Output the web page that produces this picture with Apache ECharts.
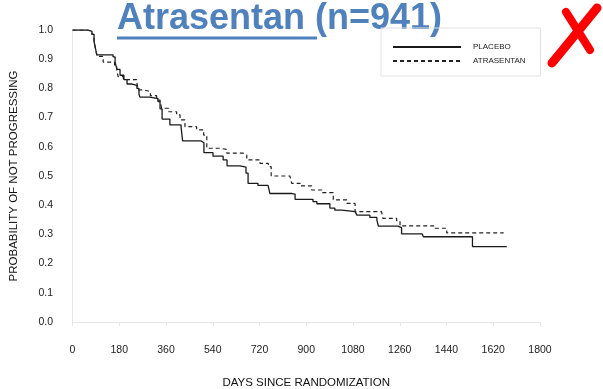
<!DOCTYPE html>
<html>
<head>
<meta charset="utf-8">
<title>Atrasentan (n=941)</title>
<script src="https://cdn.jsdelivr.net/npm/echarts@6/dist/echarts.min.js"></script>
<style>
	html,body{margin:0;padding:0;background:#fff;}
	#chart{width:603px;height:389px;}
</style>
</head>
<body>
<div id="chart"></div>
<script>
	// km curves, [day, probability]
	var placebo = [
		[0,1.0],[60,0.995],[75,0.985],[83,0.96],[90,0.93],[94,0.915],[156,0.908],[164,0.89],
		[171,0.865],[183,0.845],[198,0.83],[210,0.815],[229,0.81],[248,0.80],[256,0.78],[260,0.77],
		[298,0.765],[329,0.755],[337,0.73],[345,0.695],[375,0.675],[418,0.668],[424,0.62],[495,0.614],
		[506,0.58],[541,0.568],[580,0.555],[595,0.535],[645,0.53],[668,0.51],[676,0.475],[714,0.468],
		[753,0.462],[760,0.44],[845,0.438],[857,0.42],[926,0.412],[941,0.405],[991,0.39],[1010,0.383],
		[1037,0.378],[1088,0.376],[1095,0.366],[1145,0.358],[1172,0.349],[1178,0.328],[1253,0.323],
		[1267,0.302],[1346,0.298],[1351,0.292],[1540,0.258],[1672,0.258]
	];
	var atrasentan = [
		[0,1.0],[60,0.995],[75,0.985],[83,0.96],[90,0.93],[94,0.91],[118,0.89],[162,0.88],[170,0.86],
		[176,0.84],[196,0.83],[247,0.823],[253,0.795],[273,0.789],[300,0.775],[324,0.76],[337,0.755],
		[343,0.732],[370,0.72],[401,0.709],[414,0.692],[433,0.669],[478,0.658],[505,0.64],[517,0.595],
		[568,0.591],[594,0.578],[658,0.572],[671,0.555],[722,0.543],[754,0.532],[765,0.5],[837,0.496],
		[844,0.475],[876,0.466],[921,0.452],[960,0.443],[1004,0.418],[1056,0.406],[1088,0.378],
		[1190,0.372],[1195,0.355],[1248,0.347],[1261,0.329],[1396,0.321],[1441,0.305],[1660,0.305]
	];
	var seriesNames = ['PLACEBO','ATRASENTAN'];
	var xTicks = [0,1800,180];   // min, max, step
	var yTicks = [0,1,0.1];

	var chart = echarts.init(document.getElementById('chart'));

	var axisFont = {color:'#222',fontSize:10.5,fontFamily:'Liberation Sans, Arial, sans-serif'};
	var faint = {color:'#e6e6e6',width:1};

	chart.setOption({
		animation:false,
		textStyle:{fontFamily:'Liberation Sans, Arial, sans-serif'},
		grid:{left:72.5,right:63,top:30,bottom:67,containLabel:false,outerBoundsMode:'none'},
		legend:{
			data:seriesNames,
			orient:'vertical',
			left:381,
			top:28,
			padding:[15,15,11,11],
			itemWidth:68,
			itemHeight:10,
			itemGap:6,
			borderColor:'#e2e2e2',
			borderWidth:1,
			itemStyle:{opacity:0},
			textStyle:{fontSize:8,color:'#222',padding:[0,0,0,7]}
		},
		xAxis:{
			type:'value',
			min:xTicks[0],max:xTicks[1],interval:xTicks[2],
			offset:11,
			name:'DAYS SINCE RANDOMIZATION',
			nameLocation:'middle',
			nameGap:44,
			nameTextStyle:{fontSize:11.5,color:'#111'},
			axisLine:{show:true,lineStyle:faint},
			axisTick:{show:true,length:4,lineStyle:faint},
			axisLabel:Object.assign({margin:12,formatter:function(v){return String(v);}},axisFont),
			splitLine:{show:false}
		},
		yAxis:{
			type:'value',
			min:yTicks[0],max:yTicks[1],interval:yTicks[2],
			offset:6.5,
			name:'PROBABILITY OF NOT PROGRESSING',
			nameLocation:'middle',
			nameGap:46,
			nameTextStyle:{fontSize:11.5,color:'#111'},
			axisLine:{show:true,lineStyle:faint},
			axisTick:{show:false},
			axisLabel:Object.assign({margin:13,formatter:function(v){return v.toFixed(1);}},axisFont),
			splitLine:{show:false}
		},
		series:[
			{
				name:seriesNames[0],
				type:'line',
				step:'end',
				symbol:'none',
				data:placebo,
				lineStyle:{color:'#1a1a1a',width:1.3},
				itemStyle:{color:'#1a1a1a'}
			},
			{
				name:seriesNames[1],
				type:'line',
				step:'end',
				symbol:'none',
				data:atrasentan,
				lineStyle:{color:'#222',width:1.2,type:[4,3]},
				itemStyle:{color:'#222'}
			}
		],
		graphic:[
			{
				type:'text',
				left:117,
				top:1,
				style:{
					text:'Atrasentan (n=941)',
					fill:'#4F81BD',
					font:'bold 36px "Liberation Sans", Arial, sans-serif'
				}
			},
			{
				type:'rect',
				shape:{x:117,y:36.5,width:200,height:3},
				style:{fill:'#4F81BD'}
			},
			{
				type:'polyline',
				shape:{points:[[597,8],[575,35],[552,63]]},
				style:{stroke:'#FF0000',lineWidth:9,lineCap:'round',fill:null}
			},
			{
				type:'polyline',
				shape:{points:[[566,12],[578,31],[590,50]]},
				style:{stroke:'#FF0000',lineWidth:8,lineCap:'round',fill:null}
			}
		]
	});

	window.addEventListener('resize',function(){
		chart.resize();
	});
</script>
</body>
</html>
